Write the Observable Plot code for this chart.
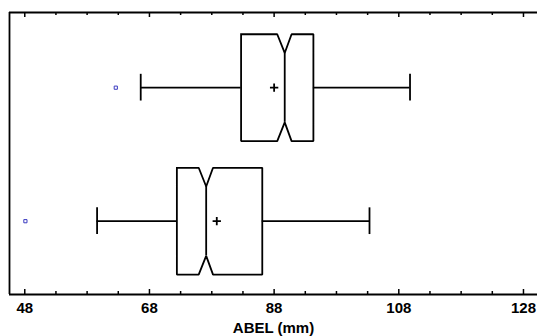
<!DOCTYPE html>
<html><head><meta charset="utf-8">
<script src="https://cdn.jsdelivr.net/npm/d3@7"></script>
<script src="https://cdn.jsdelivr.net/npm/@observablehq/plot@0.6"></script>
<style>body{margin:0;background:#fff}</style>
</head><body><div id="chart"></div>
<script>
// Data (ABEL, mm) — two groups, top to bottom
const groups = ["Group 1", "Group 2"];
const whiskerLow = [66.6, 59.6];
const q1 = [82.7, 72.4];
const notchLow = [88.5, 75.9];
const median = [89.7, 77.1];
const notchHigh = [90.8, 78.2];
const q3 = [94.3, 86.1];
const whiskerHigh = [109.8, 103.3];
const means = [88.0, 78.8];
const outliers = [62.6, 48.1];
const majorTicks = [48, 68, 88, 108, 128];
const minorTicks = [53, 58, 63, 73, 78, 83, 93, 98, 103, 113, 118, 123];
const xLabel = "ABEL (mm)";

const xDomain = [45.55, 130.25];
const yDomain = [0.437, 2.549];
const H = 0.4, ND = 0.14, CAP = 0.1;
const SW = 1.8;

const rows = groups.map((g, i) => ({
  g, c: i + 1, wl: whiskerLow[i], q1: q1[i], nl: notchLow[i], med: median[i],
  nh: notchHigh[i], q3: q3[i], wh: whiskerHigh[i], mean: means[i], out: outliers[i]
}));

const outline = rows.flatMap(d => {
  const t = d.c - H, b = d.c + H;
  return [[d.q1, t], [d.nl, t], [d.med, t + ND], [d.nh, t], [d.q3, t], [d.q3, b],
          [d.nh, b], [d.med, b - ND], [d.nl, b], [d.q1, b], [d.q1, t]]
    .map(([x, y]) => ({g: d.g, x, y}));
});

const frameH = 336 - 12 - 42;

const chart = Plot.plot({
  width: 537, height: 336,
  marginTop: 12, marginBottom: 42, marginLeft: 9, marginRight: 0,
  style: {fontFamily: "'Liberation Sans', Arial, sans-serif", fontSize: "15px", fontWeight: "bold", color: "black", background: "white"},
  x: {domain: xDomain},
  y: {domain: [yDomain[1], yDomain[0]], axis: null},
  marks: [
    // frame
    Plot.ruleY(yDomain, {stroke: "black", strokeWidth: SW}),
    Plot.ruleX([xDomain[0]], {stroke: "black", strokeWidth: SW}),
    // inward ticks (top and bottom)
    Plot.ruleX(majorTicks, {stroke: "black", strokeWidth: 1.5, insetBottom: frameH - 5}),
    Plot.ruleX(majorTicks, {stroke: "black", strokeWidth: 1.5, insetTop: frameH - 5}),
    Plot.ruleX(minorTicks, {stroke: "black", strokeWidth: 1.5, insetBottom: frameH - 3}),
    Plot.ruleX(minorTicks, {stroke: "black", strokeWidth: 1.5, insetTop: frameH - 3}),
    Plot.axisX({anchor: "bottom", ticks: majorTicks, tickSize: 0, tickPadding: 8, fontSize: 15,
      label: xLabel, labelAnchor: "center", labelOffset: 38, labelArrow: "none"}),
    // whiskers
    Plot.ruleY(rows, {y: "c", x1: "wl", x2: "q1", stroke: "black", strokeWidth: SW}),
    Plot.ruleY(rows, {y: "c", x1: "q3", x2: "wh", stroke: "black", strokeWidth: SW}),
    Plot.ruleX(rows, {x: "wl", y1: d => d.c - CAP, y2: d => d.c + CAP, stroke: "black", strokeWidth: SW}),
    Plot.ruleX(rows, {x: "wh", y1: d => d.c - CAP, y2: d => d.c + CAP, stroke: "black", strokeWidth: SW}),
    // notched boxes
    Plot.line(outline, {x: "x", y: "y", z: "g", stroke: "black", strokeWidth: SW, curve: "linear", strokeLinecap: "square", strokeLinejoin: "miter"}),
    Plot.ruleX(rows, {x: "med", y1: d => d.c - H + ND, y2: d => d.c + H - ND, stroke: "black", strokeWidth: SW}),
    // means
    Plot.dot(rows, {x: "mean", y: "c", symbol: "plus", r: 2.8, stroke: "black", strokeWidth: SW}),
    // outliers
    Plot.dot(rows, {x: "out", y: "c", symbol: "square", r: 1.8, stroke: "#3b3bc0", fill: "white", strokeWidth: 1})
  ]
});
document.getElementById("chart").appendChild(chart);
</script>
</body></html>
